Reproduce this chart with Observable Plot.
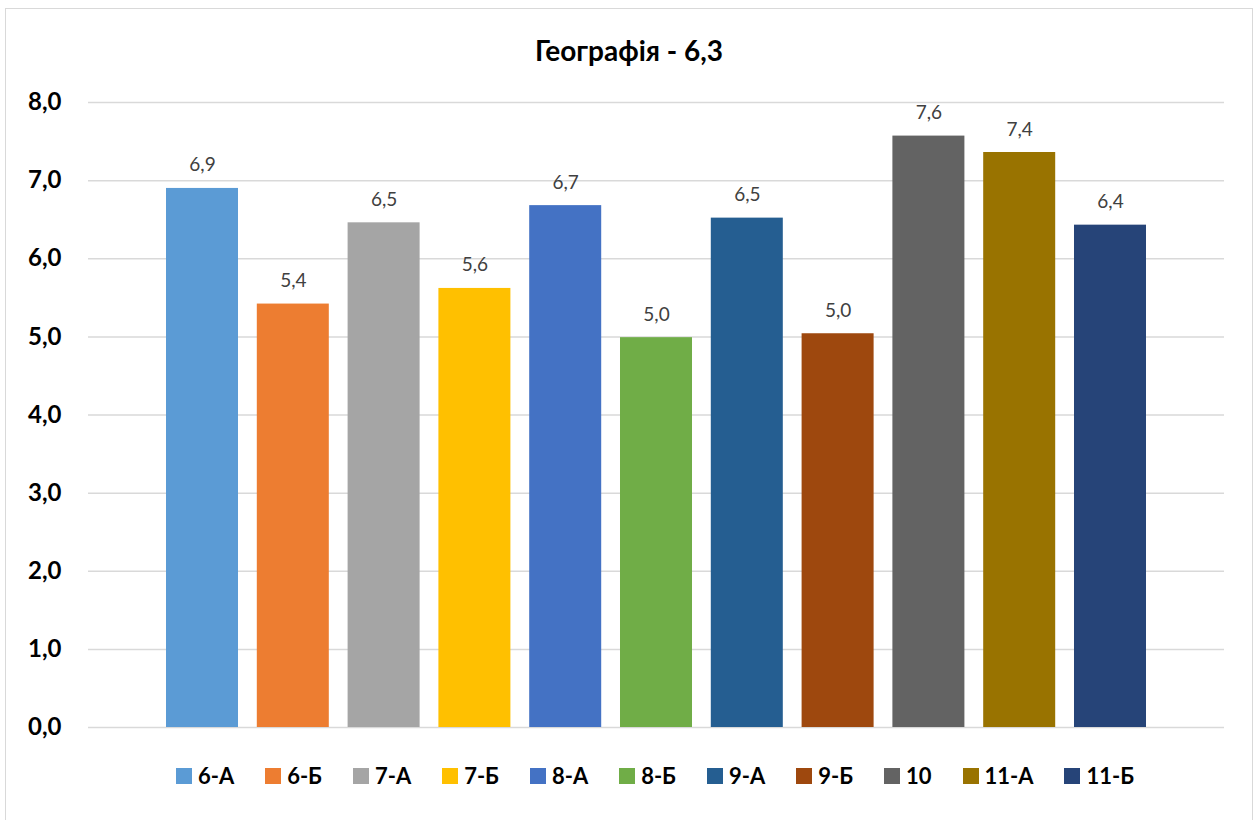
<!DOCTYPE html>
<html>
<head>
<meta charset="utf-8">
<script src="https://cdn.jsdelivr.net/npm/d3@7"></script>
<script src="https://cdn.jsdelivr.net/npm/@observablehq/plot@0.6"></script>
<style>
  html, body { margin: 0; padding: 0; background: #fff; }
  #frame {
    position: absolute; left: 5px; top: 8px;
    width: 1246px; height: 830px;
    border: 1.5px solid #d9d9d9; background: #fff;
    font-family: Lato, "Noto Sans", sans-serif;
  }
  #title {
    height: 60px; box-sizing: border-box; padding-top: 22px;
    line-height: 38px; text-align: center;
    font-size: 28px; font-weight: bold; color: #000;
  }
  #legend {
    height: 38px; line-height: 38px;
    display: flex; justify-content: center; align-items: center;
    padding-left: 52px;
  }
  .item { display: flex; align-items: center; margin: 0 15.5px; font-size: 22px; font-weight: bold; color: #000; }
  .sw { width: 16px; height: 16px; margin-right: 6px; }
</style>
</head>
<body>
<div id="frame">
  <div id="title"></div>
  <div id="chart"></div>
  <div id="legend"></div>
</div>
<script>
const titleText = "Географія - 6,3";
const classes = ["6-А", "6-Б", "7-А", "7-Б", "8-А", "8-Б", "9-А", "9-Б", "10", "11-А", "11-Б"];
const values = [6.90, 5.42, 6.46, 5.62, 6.68, 4.99, 6.52, 5.04, 7.57, 7.36, 6.43];
const colors = ["#5B9BD5", "#ED7D31", "#A5A5A5", "#FFC000", "#4472C4", "#70AD47", "#255E91", "#9E480E", "#636363", "#997300", "#264478"];
const yTicks = [0, 1, 2, 3, 4, 5, 6, 7, 8];

const fmt = v => v.toFixed(1).replace(".", ",");
const data = classes.map((c, i) => ({cls: c, value: values[i]}));

document.getElementById("title").textContent = titleText;

const chart = Plot.plot({
  width: 1246,
  height: 688,
  marginTop: 33,
  marginBottom: 30,
  marginLeft: 82,
  marginRight: 28,
  style: {fontFamily: "Lato, 'Noto Sans', sans-serif", background: "#fff"},
  x: {type: "band", domain: classes, paddingInner: 0.207, paddingOuter: 0, insetLeft: 78, insetRight: 78, round: false, axis: null},
  y: {domain: [0, 8]},
  color: {domain: classes, range: colors},
  marks: [
    Plot.ruleY(yTicks, {stroke: "#d9d9d9", strokeWidth: 1.5}),
    Plot.axisY(yTicks, {tickSize: 0, tickPadding: 27, tickFormat: fmt, fontSize: 24, fontWeight: "bold", fill: "#000", label: null}),
    Plot.barY(data, {x: "cls", y: "value", fill: "cls"}),
    Plot.text(data, {x: "cls", y: "value", text: d => fmt(d.value), lineAnchor: "bottom", dy: -17, fontSize: 19, fill: "#404040"})
  ]
});
document.getElementById("chart").appendChild(chart);

const legend = document.getElementById("legend");
classes.forEach((c, i) => {
  const it = document.createElement("div");
  it.className = "item";
  const sw = document.createElement("div");
  sw.className = "sw";
  sw.style.background = colors[i];
  const tx = document.createElement("span");
  tx.textContent = c;
  it.appendChild(sw);
  it.appendChild(tx);
  legend.appendChild(it);
});
</script>
</body>
</html>
